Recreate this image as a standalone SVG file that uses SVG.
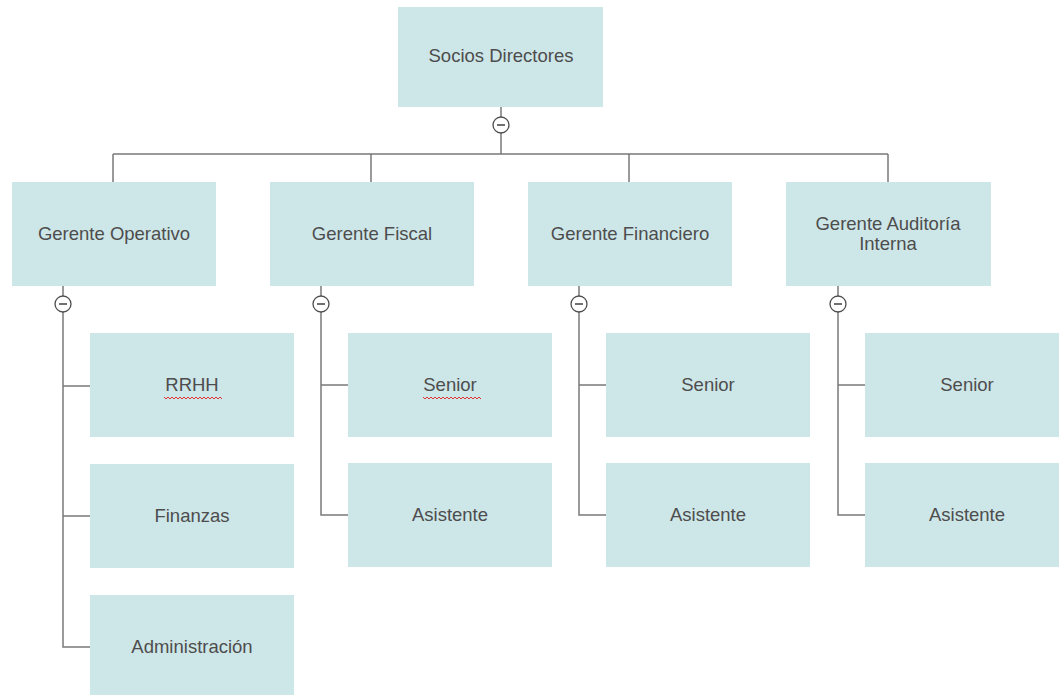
<svg xmlns="http://www.w3.org/2000/svg" width="1059" height="695" viewBox="0 0 1059 695">
<style>
.box{fill:#cde6e8}
.t{font-family:"Liberation Sans",Arial,sans-serif;font-size:18.5px;fill:#4d4d4d;text-anchor:middle}
.ln{stroke:#7a7a7a;stroke-width:1.5;fill:none}
.cc{fill:#fff;stroke:#4d4d4d;stroke-width:1.3}
.mn{stroke:#4d4d4d;stroke-width:1.6}
.sq{stroke:#e03030;stroke-width:1;fill:none}
</style>
<rect width="1059" height="695" fill="#fff"/>
<g id="connectors">
<path class="ln" d="M501 106V154M113 154H888M113 154V182M371 154V182M629 154V182M888 154V182"/>
<path class="ln" d="M63 285V647H90M63 386H90M63 516H90"/>
<path class="ln" d="M321 285V515H348M321 385H348"/>
<path class="ln" d="M579 285V515H606M579 385H606"/>
<path class="ln" d="M838 285V515H865M838 385H865"/>
</g>
<g id="toggles">
<circle class="cc" cx="501" cy="125" r="8"/><path class="mn" d="M497 125H505"/>
<circle class="cc" cx="63" cy="304" r="8"/><path class="mn" d="M59 304H67"/>
<circle class="cc" cx="321" cy="304" r="8"/><path class="mn" d="M317 304H325"/>
<circle class="cc" cx="579" cy="304" r="8"/><path class="mn" d="M575 304H583"/>
<circle class="cc" cx="838" cy="304" r="8"/><path class="mn" d="M834 304H842"/>
</g>
<g id="socios"><rect class="box" x="398" y="7" width="205" height="100"/><text class="t" x="501" y="62">Socios Directores</text></g>
<g id="gerente-operativo"><rect class="box" x="12" y="182" width="204" height="104"/><text class="t" x="114" y="240">Gerente Operativo</text></g>
<g id="gerente-fiscal"><rect class="box" x="270" y="182" width="204" height="104"/><text class="t" x="372" y="240">Gerente Fiscal</text></g>
<g id="gerente-financiero"><rect class="box" x="528" y="182" width="204" height="104"/><text class="t" x="630" y="240">Gerente Financiero</text></g>
<g id="gerente-auditoria"><rect class="box" x="786" y="182" width="205" height="104"/><text class="t" x="888" y="230">Gerente Auditoría</text><text class="t" x="888" y="250">Interna</text></g>
<g id="rrhh"><rect class="box" x="90" y="333" width="204" height="104"/><text class="t" x="192" y="391">RRHH</text><path class="sq" d="M164 397l2 2 2-2 2 2 2-2 2 2 2-2 2 2 2-2 2 2 2-2 2 2 2-2 2 2 2-2 2 2 2-2 2 2 2-2 2 2 2-2 2 2 2-2 2 2 2-2 2 2 2-2 2 2 2-2 2 2"/></g>
<g id="finanzas"><rect class="box" x="90" y="464" width="204" height="104"/><text class="t" x="192" y="522">Finanzas</text></g>
<g id="administracion"><rect class="box" x="90" y="595" width="204" height="100"/><text class="t" x="192" y="653">Administración</text></g>
<g id="fiscal-senior"><rect class="box" x="348" y="333" width="204" height="104"/><text class="t" x="450" y="391">Senior</text><path class="sq" d="M423 397l2 2 2-2 2 2 2-2 2 2 2-2 2 2 2-2 2 2 2-2 2 2 2-2 2 2 2-2 2 2 2-2 2 2 2-2 2 2 2-2 2 2 2-2 2 2 2-2 2 2 2-2 2 2 2-2 2 2"/></g>
<g id="fiscal-asistente"><rect class="box" x="348" y="463" width="204" height="104"/><text class="t" x="450" y="521">Asistente</text></g>
<g id="fin-senior"><rect class="box" x="606" y="333" width="204" height="104"/><text class="t" x="708" y="391">Senior</text></g>
<g id="fin-asistente"><rect class="box" x="606" y="463" width="204" height="104"/><text class="t" x="708" y="521">Asistente</text></g>
<g id="aud-senior"><rect class="box" x="865" y="333" width="194" height="104"/><text class="t" x="967" y="391">Senior</text></g>
<g id="aud-asistente"><rect class="box" x="865" y="463" width="194" height="104"/><text class="t" x="967" y="521">Asistente</text></g>
</svg>
